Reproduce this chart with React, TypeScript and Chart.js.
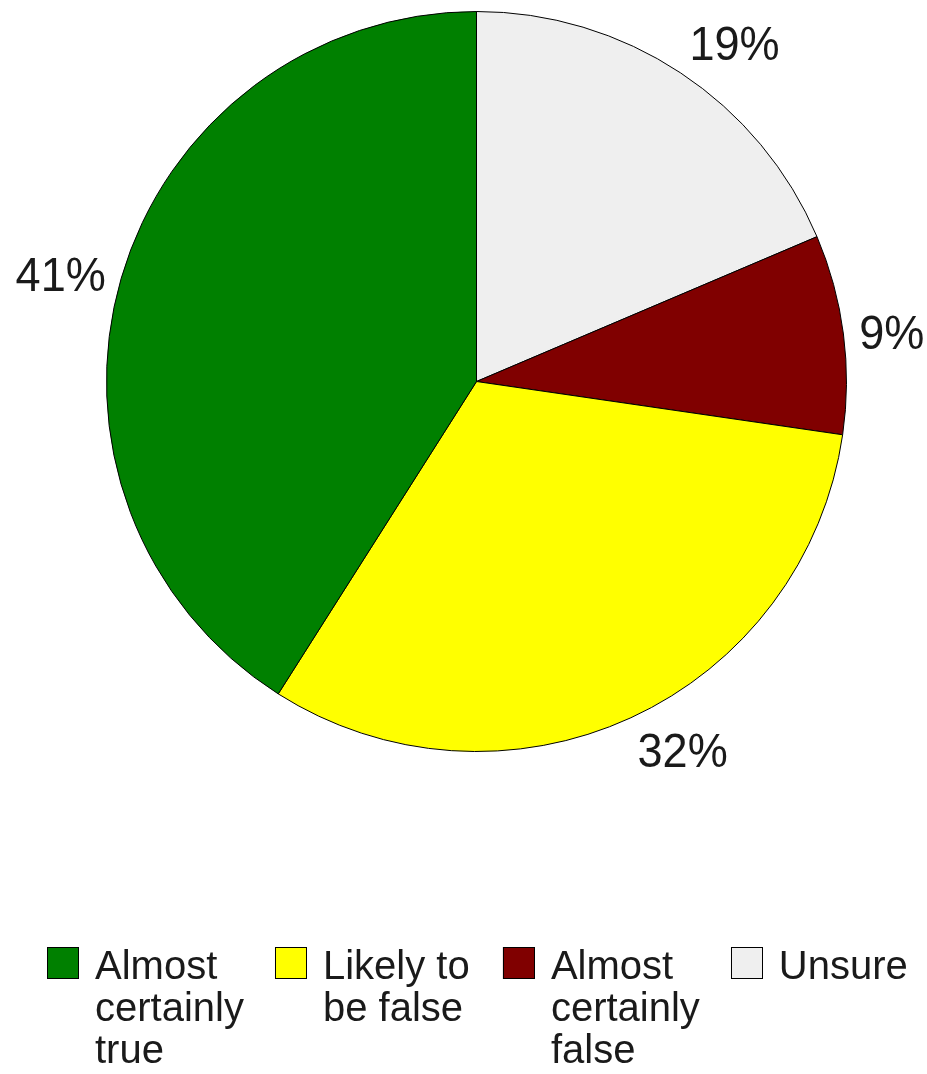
import React, { useEffect, useRef } from 'react';
import { Chart, registerables } from 'chart.js';

Chart.register(...registerables);

// Categories in legend order (counter-clockwise from 12 o'clock in the original)
const categories = ['Almost certainly true', 'Likely to be false', 'Almost certainly false', 'Unsure'];
const shares = [41.0, 31.7, 8.7, 18.6];
const colors = ['#008000', '#ffff00', '#800000', '#efefef'];

const FONT = '"Liberation Sans", Arial, Helvetica, sans-serif';
const TEXT_COLOR = '#1a1a1a';
const LABEL_SIZE = 49;
const LABEL_XSCALE = 0.92;
const LEGEND_SIZE = 40;

function wrapWords(ctx: CanvasRenderingContext2D, text: string, maxW: number): string[] {
  const words = text.split(' ');
  const lines: string[] = [];
  let cur = '';
  for (const w of words) {
    const test = cur ? cur + ' ' + w : w;
    if (cur && ctx.measureText(test).width > maxW) {
      lines.push(cur);
      cur = w;
    } else {
      cur = test;
    }
  }
  if (cur) lines.push(cur);
  return lines;
}

const percentLabels = {
  id: 'percentLabels',
  afterDatasetsDraw(chart: any) {
    const ctx: CanvasRenderingContext2D = chart.ctx;
    const ds = chart.data.datasets[0];
    const total = (ds.data as number[]).reduce((a, b) => a + b, 0);
    const meta = chart.getDatasetMeta(0);
    ctx.save();
    ctx.font = `${LABEL_SIZE}px ${FONT}`;
    ctx.fillStyle = TEXT_COLOR;
    ctx.textAlign = 'center';
    ctx.textBaseline = 'alphabetic';
    const gap = 16;
    const capH = LABEL_SIZE * 0.716;
    meta.data.forEach((arc: any, i: number) => {
      const p = arc.getProps(['x', 'y', 'startAngle', 'endAngle', 'outerRadius'], true);
      const mid = (p.startAngle + p.endAngle) / 2;
      const ux = Math.cos(mid);
      const uy = Math.sin(mid);
      const text = Math.round((ds.data[i] / total) * 100) + '%';
      const w = ctx.measureText(text).width * LABEL_XSCALE;
      const sx = Math.abs(ux) > 0.38 ? Math.sign(ux) : 0;
      const sy = Math.abs(uy) > 0.38 ? Math.sign(uy) : 0;
      const cx = p.x + ux * (p.outerRadius + gap) + (sx * w) / 2;
      const cy = p.y + uy * (p.outerRadius + gap) + (sy * capH) / 2;
      ctx.save();
      ctx.translate(cx, cy + capH / 2);
      ctx.scale(LABEL_XSCALE, 1);
      ctx.fillText(text, 0, 0);
      ctx.restore();
    });
    ctx.restore();
  },
};

const bottomLegend = {
  id: 'bottomLegend',
  afterDraw(chart: any) {
    const ctx: CanvasRenderingContext2D = chart.ctx;
    ctx.save();
    ctx.font = `${LEGEND_SIZE}px ${FONT}`;
    const box = 32;
    const textOffset = 48;
    const itemGap = 31;
    const lineH = 42;
    const top = chart.height - 127;
    const items = categories.map((c, i) => {
      const lines = wrapWords(ctx, c, 155);
      const w = Math.max(...lines.map((l) => ctx.measureText(l).width));
      return { lines, w: textOffset + w, color: colors[i] };
    });
    const colW = Math.max(...items.map((it) => it.w)) + itemGap;
    const total = colW * (items.length - 1) + items[items.length - 1].w;
    const centerX = (chart.chartArea.left + chart.chartArea.right) / 2 + 0.5;
    let x = Math.round(centerX - total / 2);
    items.forEach((it) => {
      ctx.fillStyle = it.color;
      ctx.fillRect(x, top, box, box);
      ctx.strokeStyle = '#000';
      ctx.lineWidth = 1;
      ctx.strokeRect(Math.round(x) + 0.5, top + 0.5, box - 1, box - 1);
      ctx.fillStyle = TEXT_COLOR;
      ctx.textAlign = 'left';
      ctx.textBaseline = 'alphabetic';
      it.lines.forEach((l, li) => {
        ctx.fillText(l, x + textOffset, top + 32 + li * lineH);
      });
      x += colW;
    });
    ctx.restore();
  },
};

export default function App() {
  const ref = useRef<HTMLCanvasElement | null>(null);
  useEffect(() => {
    document.body.style.margin = '0';
    const canvas = ref.current;
    if (!canvas) return;
    const chart = new Chart(canvas, {
      type: 'pie',
      data: {
        labels: [...categories].reverse(),
        datasets: [
          {
            data: [...shares].reverse(),
            backgroundColor: [...colors].reverse(),
            borderColor: '#000000',
            borderWidth: 1,
            radius: 370,
          } as any,
        ],
      },
      options: {
        responsive: false,
        animation: false,
        layout: { padding: { left: 26, right: 0, top: 0, bottom: 311 } },
        plugins: {
          legend: { display: false },
          tooltip: { enabled: false },
        },
      },
      plugins: [percentLabels, bottomLegend],
    });
    return () => chart.destroy();
  }, []);
  return (
    <div style={{ width: 927, height: 1074, background: '#fff' }}>
      <canvas ref={ref} width={927} height={1074} style={{ display: 'block' }} />
    </div>
  );
}
